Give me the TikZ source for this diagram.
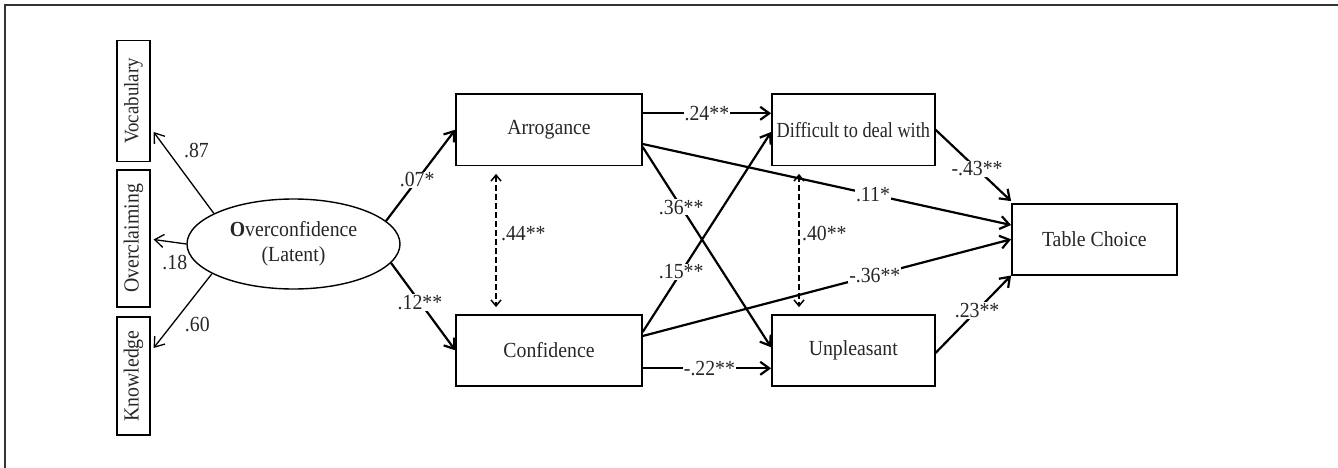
\documentclass[tikz,border=0pt]{standalone}
\usepackage{fontspec}
\setmainfont[FakeStretch=0.92]{Liberation Serif}
\newfontfamily\narrowserif[FakeStretch=0.85]{Liberation Serif}
\usetikzlibrary{arrows.meta,calc,shapes.geometric}
\begin{document}
\begin{tikzpicture}[x=1pt,y=-1pt,
  every node/.style={font=\fontsize{21.5}{25}\selectfont, text=black!85},
  vbox/.style={draw, line width=1.4pt, rectangle, minimum height=71pt, inner sep=0pt},
  ind/.style={draw, line width=1.2pt, rectangle, rotate=90, minimum height=33pt, inner sep=0pt},
  pth/.style={line width=2.2pt, -{Straight Barb[length=9pt,width=13pt]}},
  ldarr/.style={line width=1.3pt, -{Straight Barb[length=9pt,width=13pt]}},
  cov/.style={line width=1.5pt, dash pattern=on 6pt off 3pt, {Straight Barb[length=6pt,width=10pt]}-{Straight Barb[length=6pt,width=10pt]}},
  lab/.style={fill=white, inner sep=1pt},
]
\useasboundingbox (0,0) rectangle (1338,468);
\draw[line width=1.2pt, black!80] (1338,5) -- (5,5) -- (5,468);

% indicators
\node[ind, minimum width=121pt, font=\fontsize{20.5}{25}\selectfont] (voc) at (133.5,101) {Vocabulary};
\node[ind, minimum width=137pt] (ovc) at (133.5,238.5) {Overclaiming};
\node[ind, minimum width=118pt] (kno) at (133.5,376) {Knowledge};

% latent
\node[draw, ellipse, line width=1.4pt, minimum width=213pt, minimum height=90pt, inner sep=0pt, align=center] (lat) at (293.5,244) {\textbf{O}verconfidence\\(Latent)};

% boxes
\node[vbox, minimum width=186pt] (arr) at (549,129.7) {Arrogance};
\node[vbox, minimum width=186pt] (con) at (549,350.3) {Confidence};
\node[vbox, minimum width=163pt, font=\narrowserif\fontsize{21.5}{25}\selectfont] (dif) at (853.3,129.7) {Difficult to deal with};
\node[vbox, minimum width=163pt] (unp) at (853.3,350.3) {Unpleasant};
\node[vbox, minimum width=165pt] (tab) at (1094.3,239.3) {Table Choice};

% loadings
\draw[ldarr] (lat.159) -- node[pos=0.77, xshift=29pt] {.87} ($(voc.south)+(3,31)$);
\draw[ldarr] (lat.west) -- node[pos=0.35, yshift=-20pt] {.18} ($(ovc.south)+(3,1)$);
\draw[ldarr] (lat.200) -- node[pos=0.68, xshift=25pt] {.60} ($(kno.south)+(3,-28)$);

% structural paths
\draw[pth] (lat.14) -- node[lab, pos=0.45] {.07*} (arr.west);
\draw[pth] (lat.-11) -- node[lab, pos=0.45] {.12**} (con.west);
\draw[pth] ($(arr.east)+(0,-16.4)$) -- node[lab, pos=0.5] {.24**} ($(dif.west)+(0,-16.4)$);
\draw[pth] ($(con.east)+(0,18)$) -- node[lab, pos=0.52] {-.22**} ($(unp.west)+(0,18)$);
\draw[pth] ($(arr.east)+(0,17.3)$) -- node[lab, pos=0.3] {.36**} ($(unp.west)+(0,-3)$);
\draw[pth] ($(con.east)+(0,-18.3)$) -- node[lab, pos=0.3] {.15**} ($(dif.west)+(0,2.3)$);
\draw[pth] ($(arr.east)+(0,14.3)$) -- node[lab, pos=0.625] {.11*} ($(tab.west)+(0,-14.3)$);
\draw[pth] ($(con.east)+(0,-14.3)$) -- node[lab, pos=0.63] {-.36**} (tab.west);
\draw[pth] (dif.east) -- node[lab, pos=0.55] {-.43**} ($(tab.north west)+(0,-2)$);
\draw[pth] ($(unp.east)+(0,2.7)$) -- node[lab, pos=0.55] {.23**} (tab.south west);

% covariances
\draw[cov] ($(arr.south)+(-53,8)$) -- node[pos=0.45, right=1pt] {.44**} ($(con.north)+(-53,-7)$);
\draw[cov] ($(dif.south)+(-54.3,8)$) -- node[pos=0.45, right=-1pt] {.40**} ($(unp.north)+(-54.3,-7)$);
\end{tikzpicture}
\end{document}
